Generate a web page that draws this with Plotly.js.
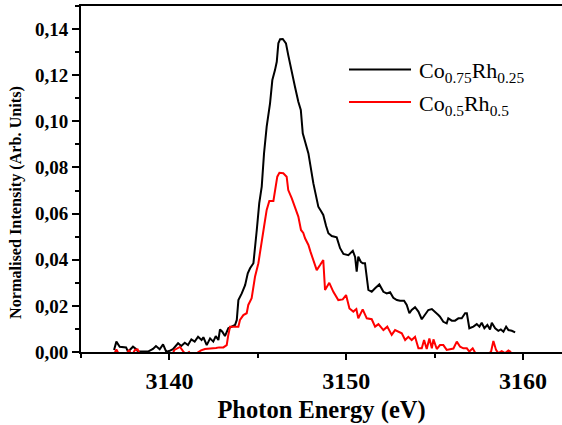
<!DOCTYPE html>
<html>
<head>
<meta charset="utf-8">
<script src="https://cdn.plot.ly/plotly-3.0.1.min.js"></script>
<style>html,body{margin:0;padding:0;background:#fff;}#chart{width:562px;height:425px;}</style>
</head>
<body>
<div id="chart"></div>
<script>
// Co0.75Rh0.25 (black)
const energyCo75 = [3136.87,3137.00,3137.19,3137.38,3137.55,3137.66,3137.83,3137.94,3138.11,3138.22,3138.51,3138.79,3139.07,3139.24,3139.45,3139.64,3139.82,3139.98,3140.20,3140.49,3140.67,3140.87,3141.05,3141.24,3141.43,3141.62,3141.82,3141.92,3142.11,3142.30,3142.48,3142.62,3142.77,3142.86,3142.99,3143.14,3143.33,3143.52,3143.71,3143.81,3143.90,3144.09,3144.28,3144.43,3144.56,3144.75,3144.84,3144.94,3145.08,3145.22,3145.35,3145.50,3145.69,3145.82,3145.97,3146.07,3146.16,3146.26,3146.41,3146.59,3146.72,3146.92,3147.10,3147.29,3147.43,3147.54,3147.67,3147.86,3148.14,3148.29,3148.42,3148.57,3148.70,3148.86,3148.99,3149.18,3149.46,3149.65,3149.84,3150.12,3150.21,3150.37,3150.50,3150.59,3150.68,3150.82,3150.93,3151.06,3151.25,3151.44,3151.63,3151.87,3152.10,3152.29,3152.48,3152.66,3152.86,3153.04,3153.27,3153.42,3153.57,3153.70,3153.89,3154.08,3154.27,3154.46,3154.64,3154.84,3155.02,3155.21,3155.30,3155.49,3155.68,3155.77,3155.97,3156.15,3156.34,3156.53,3156.72,3156.82,3156.96,3157.19,3157.38,3157.53,3157.66,3157.81,3157.98,3158.13,3158.23,3158.42,3158.60,3158.74,3158.89,3159.04,3159.17,3159.36,3159.55];
const intensityCo75 = [0.0009,0.0045,0.0023,0.0020,0.0020,0.0001,0.0014,0.0023,0.0013,0.0002,0.0002,0.0002,0.0013,0.0026,0.0012,0.0033,0.0001,0.0004,0.0012,0.0038,0.0026,0.0040,0.0030,0.0055,0.0045,0.0066,0.0052,0.0064,0.0030,0.0059,0.0045,0.0069,0.0052,0.0098,0.0088,0.0069,0.0103,0.0110,0.0117,0.0139,0.0225,0.0254,0.0290,0.0341,0.0363,0.0385,0.0471,0.0529,0.0645,0.0717,0.0861,0.0977,0.1078,0.1179,0.1222,0.1258,0.1338,0.1356,0.1357,0.1338,0.1287,0.1222,0.1150,0.1085,0.1049,0.0948,0.0912,0.0861,0.0731,0.0676,0.0630,0.0611,0.0594,0.0546,0.0515,0.0503,0.0497,0.0450,0.0425,0.0420,0.0428,0.0439,0.0412,0.0348,0.0413,0.0391,0.0385,0.0385,0.0269,0.0261,0.0276,0.0293,0.0261,0.0254,0.0259,0.0235,0.0225,0.0222,0.0222,0.0204,0.0168,0.0182,0.0194,0.0175,0.0142,0.0165,0.0182,0.0186,0.0175,0.0160,0.0153,0.0131,0.0124,0.0146,0.0136,0.0136,0.0146,0.0146,0.0168,0.0168,0.0103,0.0110,0.0121,0.0110,0.0127,0.0103,0.0117,0.0098,0.0127,0.0103,0.0092,0.0098,0.0088,0.0110,0.0095,0.0092,0.0085];

// Co0.5Rh0.5 (red)
const energyCo50 = [3136.87,3137.00,3137.15,3137.32,3137.55,3137.71,3137.88,3138.05,3138.20,3138.34,3138.56,3138.79,3139.02,3139.24,3139.47,3139.69,3139.92,3140.15,3140.28,3140.43,3140.60,3140.77,3140.91,3141.11,3141.25,3141.45,3141.62,3141.79,3142.01,3142.24,3142.47,3142.64,3142.81,3143.05,3143.24,3143.33,3143.43,3143.65,3143.90,3143.99,3144.18,3144.37,3144.46,3144.65,3144.84,3145.03,3145.16,3145.24,3145.35,3145.50,3145.65,3145.88,3145.97,3146.10,3146.22,3146.44,3146.63,3146.72,3146.92,3147.10,3147.29,3147.44,3147.57,3147.67,3147.86,3147.98,3148.14,3148.33,3148.52,3148.70,3148.80,3149.04,3149.27,3149.42,3149.55,3149.80,3149.99,3150.18,3150.40,3150.57,3150.68,3150.93,3151.16,3151.44,3151.63,3151.82,3152.10,3152.32,3152.57,3152.76,3152.95,3153.14,3153.33,3153.51,3153.70,3153.89,3154.08,3154.27,3154.40,3154.55,3154.70,3154.84,3154.93,3155.12,3155.30,3155.49,3155.68,3155.87,3156.06,3156.25,3156.44,3156.62,3156.82,3156.96,3157.15,3157.34,3157.57,3157.79,3158.02,3158.19,3158.32,3158.47,3158.60,3158.79,3158.98,3159.17,3159.32];
const intensityCo50 = [-0.0010,0.0011,-0.0010,-0.0010,-0.0015,0.0009,-0.0015,0.0009,0.0011,-0.0010,-0.0020,-0.0010,-0.0020,-0.0010,-0.0020,-0.0010,-0.0020,-0.0015,0.0009,0.0015,0.0022,0.0004,-0.0010,0.0000,-0.0015,-0.0010,0.0000,0.0007,0.0013,0.0016,0.0016,0.0017,0.0020,0.0020,0.0030,0.0074,0.0110,0.0110,0.0110,0.0139,0.0160,0.0168,0.0204,0.0233,0.0326,0.0385,0.0442,0.0486,0.0543,0.0616,0.0655,0.0655,0.0702,0.0760,0.0777,0.0775,0.0760,0.0702,0.0666,0.0630,0.0587,0.0529,0.0516,0.0493,0.0464,0.0434,0.0399,0.0355,0.0377,0.0399,0.0269,0.0300,0.0261,0.0238,0.0225,0.0228,0.0247,0.0189,0.0175,0.0186,0.0146,0.0185,0.0146,0.0142,0.0110,0.0121,0.0095,0.0110,0.0074,0.0095,0.0088,0.0081,0.0052,0.0066,0.0052,0.0066,0.0016,0.0016,0.0052,0.0013,0.0059,0.0016,0.0055,0.0013,0.0030,0.0030,0.0009,0.0012,0.0015,0.0045,0.0023,0.0016,0.0016,0.0002,0.0016,-0.0010,-0.0010,-0.0015,-0.0010,0.0002,0.0048,0.0009,-0.0005,0.0004,-0.0005,0.0007,0.0000];

const xTickVals = [3140, 3150, 3160];
const xTickText = ['3140', '3150', '3160'];
const yTickVals = [0, 0.02, 0.04, 0.06, 0.08, 0.10, 0.12, 0.14];
const yTickText = ['0,00', '0,02', '0,04', '0,06', '0,08', '0,10', '0,12', '0,14'];
const seriesNames = ['Co<sub>0.75</sub>Rh<sub>0.25</sub>', 'Co<sub>0.5</sub>Rh<sub>0.5</sub>'];
const xTitle = 'Photon Energy (eV)';
const yTitle = 'Normalised Intensity (Arb. Units)';

const serif = 'Liberation Serif, Times New Roman, serif';
const W = 562, H = 425, L = 81, R = 0, T = 6, B = 73;
const pw = W - L - R, ph = H - T - B;
const px = v => (v - L) / pw;
const py = v => (H - B - v) / ph;

const traces = [
  {x: energyCo75, y: intensityCo75, type: 'scatter', mode: 'lines', name: seriesNames[0],
   line: {color: '#000000', width: 2}, showlegend: false},
  {x: energyCo50, y: intensityCo50, type: 'scatter', mode: 'lines', name: seriesNames[1],
   line: {color: '#ff0000', width: 2}, showlegend: false}
];

const layout = {
  width: W, height: H,
  margin: {l: L, r: R, t: T, b: B, pad: 0},
  paper_bgcolor: '#ffffff', plot_bgcolor: '#ffffff',
  font: {family: serif, color: '#000000'},
  xaxis: {
    range: [3135, 3162.2], showgrid: false, zeroline: false,
    showline: true, linecolor: '#000', linewidth: 2, mirror: true,
    ticks: 'outside', ticklen: 6, tickwidth: 2, tickcolor: '#000',
    tickvals: xTickVals, ticktext: xTickText,
    tickfont: {family: serif, size: 24, color: '#000', weight: 'bold'},
    minor: {dtick: 5, tick0: 3135, ticks: 'outside', ticklen: 4, tickwidth: 2, tickcolor: '#000', showgrid: false},
    title: {text: '<b>' + xTitle + '</b>', font: {family: serif, size: 24.5, color: '#000'}, standoff: 8}
  },
  yaxis: {
    range: [0, 0.15], showgrid: false, zeroline: false,
    showline: true, linecolor: '#000', linewidth: 2, mirror: false,
    ticks: 'outside', ticklen: 7, tickwidth: 2, tickcolor: '#000',
    tickvals: yTickVals, ticktext: yTickText,
    tickfont: {family: serif, size: 19, color: '#000', weight: 'bold'},
    minor: {dtick: 0.01, tick0: 0, ticks: 'outside', ticklen: 4, tickwidth: 2, tickcolor: '#000', showgrid: false}
  },
  shapes: [
    {type: 'line', xref: 'paper', yref: 'paper', x0: px(349), x1: px(411), y0: py(69.5), y1: py(69.5), line: {color: '#000', width: 2}},
    {type: 'line', xref: 'paper', yref: 'paper', x0: px(349), x1: px(411), y0: py(102), y1: py(102), line: {color: '#ff0000', width: 2}}
  ],
  annotations: [
    {xref: 'paper', yref: 'paper', x: px(417), y: py(72), xanchor: 'left', yanchor: 'middle', showarrow: false,
     text: seriesNames[0], font: {family: serif, size: 22, color: '#000'}},
    {xref: 'paper', yref: 'paper', x: px(417), y: py(104.5), xanchor: 'left', yanchor: 'middle', showarrow: false,
     text: seriesNames[1], font: {family: serif, size: 22, color: '#000'}},
    {xref: 'paper', yref: 'paper', x: px(16), y: py(203), xanchor: 'center', yanchor: 'middle', showarrow: false,
     textangle: -90, text: '<b>' + yTitle + '</b>', font: {family: serif, size: 16.2, color: '#000'}}
  ]
};

Plotly.newPlot('chart', traces, layout, {displayModeBar: false, staticPlot: true});
</script>
</body>
</html>
